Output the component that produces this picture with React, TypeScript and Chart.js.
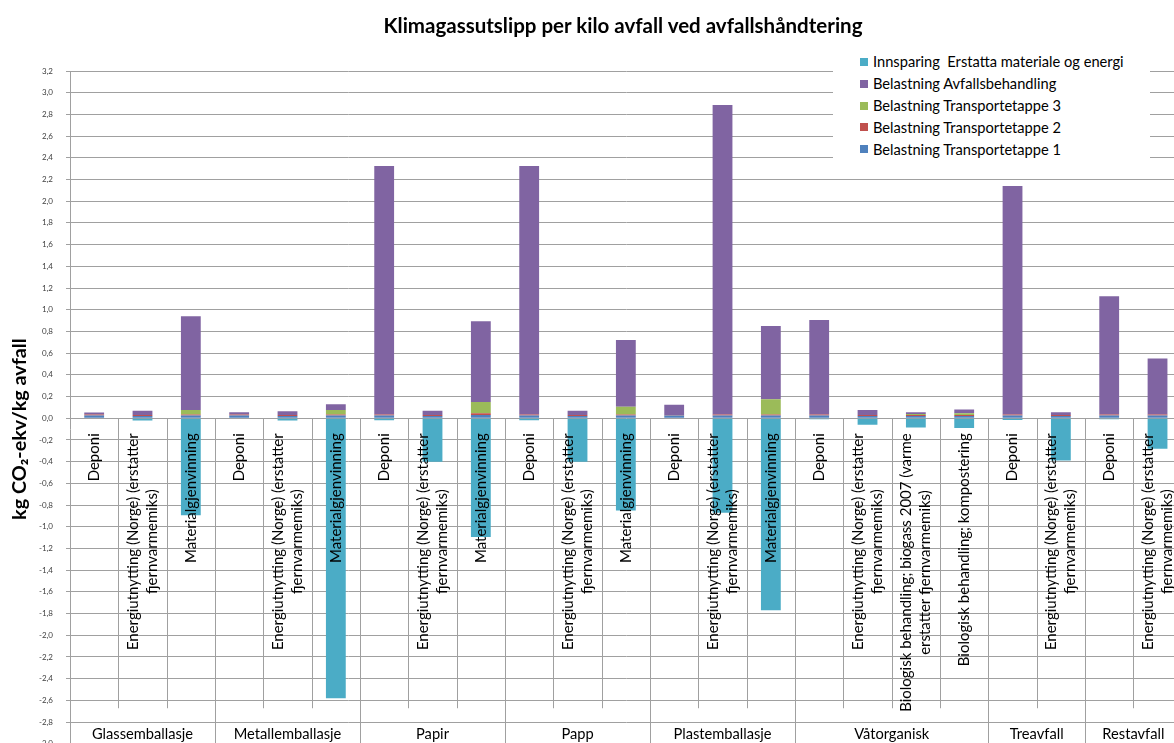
import React, { useEffect, useRef } from 'react';
import { Chart, registerables } from 'chart.js';

Chart.register(...registerables);

// ---------- DATA ----------
const groups = ['Glassemballasje', 'Metallemballasje', 'Papir', 'Papp', 'Plastemballasje', 'Våtorganisk', 'Treavfall', 'Restavfall'];
const groupSizes = [3, 3, 3, 3, 3, 4, 2, 2];

const DEP = ['Deponi'];
const ENE = ['Energiutnytting (Norge) (erstatter', 'fjernvarmemiks)'];
const MAT = ['Materialgjenvinning'];
const BIOGASS = ['Biologisk behandling; biogass 2007 (varme', 'erstatter fjernvarmemiks)'];
const KOMPOST = ['Biologisk behandling; kompostering'];

const categories: string[][] = [
  DEP, ENE, MAT,
  DEP, ENE, MAT,
  DEP, ENE, MAT,
  DEP, ENE, MAT,
  DEP, ENE, MAT,
  DEP, ENE, BIOGASS, KOMPOST,
  DEP, ENE,
  DEP, ENE,
];

const transport1 = [0.025, 0.02, 0.025, 0.025, 0.02, 0.025, 0.025, 0.02, 0.03, 0.025, 0.02, 0.025, 0.025, 0.025, 0.025, 0.025, 0.02, 0.02, 0.02, 0.025, 0.02, 0.025, 0.025];
const transport2 = [0.01, 0.01, 0.01, 0.01, 0.01, 0.01, 0.01, 0.01, 0.015, 0.01, 0.01, 0.01, 0.005, 0.01, 0.01, 0.01, 0.01, 0.01, 0.01, 0.01, 0.01, 0.01, 0.01];
const transport3 = [0, 0, 0.04, 0, 0, 0.04, 0, 0, 0.105, 0, 0, 0.07, 0, 0, 0.14, 0, 0, 0.01, 0.015, 0, 0, 0, 0];
const avfallsbehandling = [0.017, 0.04, 0.865, 0.02, 0.035, 0.055, 2.29, 0.038, 0.745, 2.29, 0.038, 0.615, 0.095, 2.852, 0.675, 0.87, 0.045, 0.015, 0.035, 2.105, 0.025, 1.09, 0.515];
const innsparing = [0, -0.02, -0.895, 0, -0.02, -2.58, -0.018, -0.4, -1.095, -0.018, -0.4, -0.85, 0, -0.87, -1.77, -0.01, -0.06, -0.085, -0.09, -0.015, -0.39, -0.01, -0.28];

const seriesNames = [
  'Belastning Transportetappe 1',
  'Belastning Transportetappe 2',
  'Belastning Transportetappe 3',
  'Belastning Avfallsbehandling',
  'Innsparing  Erstatta materiale og energi',
];
const seriesColors = ['#4F81BD', '#C0504D', '#9BBB59', '#8064A2', '#4BACC6'];

const yMin = -3.4;
const yMax = 3.2;
const yStep = 0.2;

const titleText = 'Klimagassutslipp per kilo avfall ved avfallshåndtering';
const yTitleText = 'kg CO₂-ekv/kg avfall';

// ---------- STYLE ----------
const FONT = 'Lato, "Open Sans", sans-serif';
const GRID = '#a0a0a0';
const LEVEL1_H = 290;
const LABEL_GAP = 15;
const LINE_H = 19;
const LABEL_SIZE = 15;

const axisLabelsPlugin = {
  id: 'axisLabels',
  beforeDatasetsDraw(chart: any) {
    const { ctx, chartArea, scales } = chart;
    const x = scales.x;
    const y = scales.y;
    const y0 = y.getPixelForValue(0);
    const slot = x.getPixelForValue(1) - x.getPixelForValue(0);
    const bnd = (i: number) => Math.round(x.getPixelForValue(i) - slot / 2) + 0.5;
    ctx.save();
    ctx.strokeStyle = GRID;
    ctx.lineWidth = 1;
    const line = (px: number, a: number, b: number) => {
      ctx.beginPath();
      ctx.moveTo(px, a);
      ctx.lineTo(px, b);
      ctx.stroke();
    };
    let idx = 0;
    groupSizes.forEach((n) => {
      for (let k = 1; k < n; k++) line(bnd(idx + k), y0, y0 + LEVEL1_H);
      idx += n;
      line(bnd(idx), y0, chartArea.bottom);
    });
    ctx.restore();
  },
  afterDatasetsDraw(chart: any) {
    const { ctx, scales } = chart;
    const x = scales.x;
    const y = scales.y;
    const y0 = y.getPixelForValue(0);
    const slot = x.getPixelForValue(1) - x.getPixelForValue(0);
    ctx.save();
    ctx.font = `${LABEL_SIZE}px ${FONT}`;
    ctx.fillStyle = '#000';
    ctx.textAlign = 'center';
    ctx.textBaseline = 'middle';
    categories.forEach((lines, i) => {
      const cx = x.getPixelForValue(i);
      const maxW = Math.max(...lines.map((l) => ctx.measureText(l).width));
      const cy = y0 + LABEL_GAP + maxW / 2;
      ctx.save();
      ctx.translate(cx, cy);
      ctx.rotate(-Math.PI / 2);
      lines.forEach((l, j) => ctx.fillText(l, 0, (j - (lines.length - 1) / 2) * LINE_H));
      ctx.restore();
    });
    ctx.font = `14.67px ${FONT}`;
    let idx = 0;
    groups.forEach((g, gi) => {
      const n = groupSizes[gi];
      const cx = x.getPixelForValue(idx) - slot / 2 + (n * slot) / 2;
      ctx.fillText(g, cx, 734);
      idx += n;
    });
    ctx.restore();
  },
};

export default function App() {
  const ref = useRef<HTMLCanvasElement | null>(null);
  useEffect(() => {
    if (!ref.current) return;
    const chart = new Chart(ref.current, {
      type: 'bar',
      data: {
        labels: categories.map((c) => c.join(' ')),
        datasets: [transport1, transport2, transport3, avfallsbehandling, innsparing].map((d, i) => ({
          label: seriesNames[i],
          data: d,
          backgroundColor: seriesColors[i],
          borderWidth: 0,
          barPercentage: 0.41,
          categoryPercentage: 1,
        })),
      },
      options: {
        responsive: false,
        animation: false,
        layout: { padding: { top: 71, left: 0, right: 18.3, bottom: 8.6 } },
        plugins: {
          legend: { display: false },
          title: { display: false },
          tooltip: { enabled: false },
        },
        scales: {
          x: { stacked: true, display: false },
          y: {
            stacked: true,
            min: yMin,
            max: yMax,
            afterFit: (s: any) => {
              s.width = 70;
            },
            ticks: {
              stepSize: yStep,
              autoSkip: false,
              padding: 13,
              color: '#404040',
              font: { family: FONT, size: 8 },
              callback: (v: any) => (Math.round(Number(v) * 10) / 10).toFixed(1).replace('.', ',').replace('-0,0', '0,0'),
            },
            grid: { color: GRID, tickLength: 4, lineWidth: 1 },
            border: { color: GRID },
            title: {
              display: true,
              text: yTitleText,
              color: '#000',
              font: { family: FONT, size: 19.8, weight: 'bold' },
              padding: { top: 8, bottom: 0 },
            },
          },
        },
      },
      plugins: [axisLabelsPlugin],
    });
    return () => chart.destroy();
  }, []);

  const legendOrder = [4, 3, 2, 1, 0];
  return (
    <div style={{ position: 'fixed', left: 0, top: 0, width: 1174, height: 743, overflow: 'hidden', background: '#fff' }}>
      <canvas ref={ref} width={1200} height={805} style={{ position: 'absolute', left: 0, top: 0, width: 1200, height: 805 }} />
      <div
        style={{
          position: 'absolute',
          left: 623,
          top: 12,
          transform: 'translateX(-50%)',
          whiteSpace: 'nowrap',
          font: `bold 20.5px ${FONT}`,
          lineHeight: '26px',
          color: '#000',
        }}
      >
        {titleText}
      </div>
      <div style={{ position: 'absolute', left: 833, top: 50, width: 317, height: 115, background: '#fff' }}>
        {legendOrder.map((si, r) => (
          <div key={si} style={{ position: 'absolute', left: 0, top: 11.7 + r * 21.9 - 11, height: 22, display: 'flex', alignItems: 'center', whiteSpace: 'pre' }}>
            <span style={{ display: 'inline-block', width: 8, height: 8, background: seriesColors[si], marginLeft: 27, marginRight: 5 }} />
            <span style={{ font: `14.67px ${FONT}`, color: '#000' }}>{seriesNames[si]}</span>
          </div>
        ))}
      </div>
    </div>
  );
}
